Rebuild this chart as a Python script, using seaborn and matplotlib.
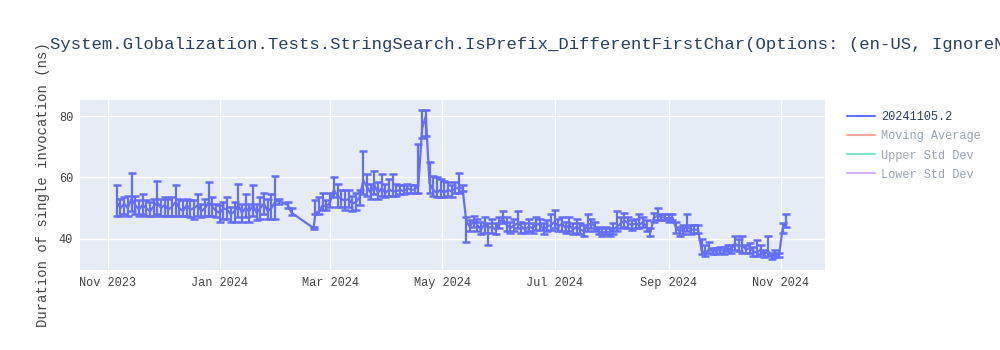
import numpy as np
import pandas as pd
import matplotlib
matplotlib.use("Agg")
import matplotlib.pyplot as plt
import matplotlib.dates as mdates
from matplotlib.lines import Line2D
import seaborn as sns

# ---------------- data ----------------
title = "System.Globalization.Tests.StringSearch.IsPrefix_DifferentFirstChar(Options: (en-US, IgnoreNonSpace, False))"
ylabel = "Duration of single invocation (ns)"
series_name = "20241105.2"
legend_labels = ["20241105.2", "Moving Average", "Upper Std Dev", "Lower Std Dev"]

# segment 1: every 2 days from 2023-11-06
seg1_start = "2023-11-06"
seg1_mean = [52, 50, 51.5, 50, 53, 51, 49.5, 51, 50, 49, 50.5, 52, 50, 51, 49.5, 50.5,
             52, 50, 49, 51, 49.5, 50, 51, 49, 50, 52, 50.5, 49, 48.5, 50, 49.5, 48,
             49, 51, 48.5, 50, 49, 51, 48.5, 50, 51.5, 49, 50, 52, 52.5]
seg1_lo = [4.5, 2.5, 3.5, 2.5, 4, 3, 2, 3, 2.5, 1.5, 3, 4, 2.5, 3.5, 2, 3,
           4.5, 2.5, 1.5, 3.5, 2.5, 3.5, 3.5, 2, 2.5, 4.5, 3, 2, 3, 3.5, 3, 2.5,
           3.5, 4, 3, 3, 3.5, 3.5, 2.5, 3.5, 3.5, 2.5, 3.5, 5.5, 1]
seg1_hi = [5.5, 3, 2, 4, 8.5, 3, 3, 3.5, 2.5, 3, 2.5, 7, 3, 2.5, 3.5, 3,
           5.5, 3, 3.5, 2, 3, 2.5, 3.5, 2.5, 3, 6.5, 3, 2.5, 2.5, 2, 4, 2.5,
           3, 7, 3, 4.5, 2.5, 6.5, 3, 3.5, 3.5, 4, 4.5, 8.5, 0.5]

# sparse February points
feb_dates = ["2024-02-07", "2024-02-09", "2024-02-21", "2024-02-22"]
feb_mean = [51, 48.5, 43.5, 48.5]
feb_lo = [1, 0.8, 0.3, 0.5]
feb_hi = [1, 1.5, 0.3, 4]

# segment 2: every 2 days from 2024-02-24
seg2_start = "2024-02-24"
seg2_mean = [49, 51, 50.5, 52, 56, 54, 53, 52.5, 53, 51.5, 52, 53.5, 59, 57, 55, 57.5,
             55, 56.5, 55, 56, 55.5, 55.5, 56, 55.5, 56.5, 56, 56, 58, 76, 80, 58, 56,
             55, 56, 55, 56, 55.5, 56.5, 56.5, 56.5, 45.5, 44, 46, 44.5, 43, 45, 43.5, 44,
             43, 45.5, 46.5, 44.5, 43.5, 44.5, 45, 44, 43, 44, 43.5, 44.5, 45, 43, 44, 44.5,
             45.5, 44, 45, 43.5, 44.5, 43, 44, 43, 42.5, 44.5, 45, 44, 42.5, 42, 42.5, 42,
             43, 44, 45, 46, 45, 44.5, 45, 44.5, 45.5, 44, 42, 47, 47.5, 47, 47, 46.5,
             47, 43.5, 42.5, 43, 44, 43, 43, 43, 36, 35.5, 36.5, 36, 36, 36.5, 36, 37,
             36.5, 38.5, 37.5, 38, 36.5, 37, 36, 35.5, 36.5, 35, 36, 34.5, 35, 34.5, 43.5, 45.5]
seg2_lo = [1, 1.5, 1, 1.5, 2.5, 3.5, 2.5, 3, 2.5, 2.5, 2.5, 2.5, 4.5, 3, 2, 3,
           2, 2.5, 1.5, 2, 1.5, 1.5, 1.5, 1, 1.5, 1, 1, 3, 3, 6.5, 3, 2,
           1.5, 2.5, 1.5, 2, 2, 1.5, 1.5, 1, 6.5, 1.5, 2, 2, 1.5, 3, 5.5, 2,
           1.5, 2, 1.5, 2, 1.5, 2, 1.5, 2, 1, 1.5, 1.5, 1.5, 2, 1.5, 1.5, 1.5,
           2, 1.5, 2.5, 1.5, 2, 1.5, 2, 1.5, 1.5, 2, 1.5, 1.5, 1, 1, 1, 1,
           1.5, 1.5, 1.5, 2, 1.5, 1.5, 1.5, 1, 1.5, 1.5, 1, 1.5, 1.5, 1, 1, 1,
           1, 1.5, 1.5, 1.5, 1.5, 1.5, 1, 1, 1, 1, 1, 1, 1, 1, 1, 1,
           1, 2, 1.5, 2.5, 1, 1.5, 1.5, 1, 1.5, 1, 1.5, 1, 1, 0.5, 1.5, 1.5]
seg2_hi = [4.5, 4, 2, 3, 4, 4, 3, 3.5, 3, 2.5, 3, 2.5, 9.5, 4, 3, 4.5,
           3.5, 4.5, 3, 3.5, 5.5, 2.5, 1.5, 2, 1.5, 1.5, 1.5, 13, 6, 2, 7, 4.5,
           5, 3.5, 4, 2.5, 2, 2, 5, 1, 1.5, 2, 1.5, 2, 2.5, 2, 1.5, 2.5,
           2, 1.5, 2.5, 2.5, 2, 2, 4, 1.5, 2, 2.5, 1.5, 2.5, 1.5, 2, 2, 3.5,
           4, 2.5, 2, 2, 2.5, 2, 2.5, 2, 2, 3.5, 1.5, 1.5, 1.5, 1.5, 1.5, 1.5,
           2, 5, 2, 2.5, 2, 1.5, 1.5, 3.5, 1.5, 2, 1.5, 1.5, 2.5, 1, 1, 1.5,
           1, 2, 1.5, 1.5, 4, 1.5, 1.5, 1.5, 4, 2.5, 2.5, 1, 1, 1, 1.5, 1,
           1.5, 2.5, 2.5, 3, 1.5, 1.5, 1.5, 4, 1.5, 1.5, 5, 1, 1.5, 1, 1.5, 2.5]

x_ticks = ["2023-11-01", "2024-01-01", "2024-03-01", "2024-05-01", "2024-07-01", "2024-09-01", "2024-11-01"]
x_tick_labels = ["Nov 2023", "Jan 2024", "Mar 2024", "May 2024", "Jul 2024", "Sep 2024", "Nov 2024"]
y_ticks = [40, 60, 80]

# ---------------- build frame ----------------
d1 = pd.date_range(seg1_start, periods=len(seg1_mean), freq="2D")
d2 = pd.date_range(seg2_start, periods=len(seg2_mean), freq="2D")
df = pd.DataFrame({
    "date": list(d1) + list(pd.to_datetime(feb_dates)) + list(d2),
    "value": seg1_mean + feb_mean + seg2_mean,
    "lo": seg1_lo + feb_lo + seg2_lo,
    "hi": seg1_hi + feb_hi + seg2_hi,
})

# ---------------- style ----------------
sns.set_theme(style="darkgrid")
mono = ["Liberation Mono", "DejaVu Sans Mono"]
plt.rcParams["font.family"] = mono
plt.rcParams["axes.facecolor"] = "#E5ECF6"
plt.rcParams["grid.color"] = "white"

fig = plt.figure(figsize=(10, 3.5), dpi=100)
ax = fig.add_axes([0.080, 0.229, 0.745, 0.485])
ax.set_facecolor("#E5ECF6")

blue = "#636EFA"
ax.errorbar(df["date"], df["value"], yerr=[df["lo"], df["hi"]], fmt="none",
            ecolor=blue, elinewidth=1.6, capsize=3.0, capthick=1.8, zorder=3)
sns.lineplot(data=df, x="date", y="value", ax=ax, color=blue, linewidth=1.6,
             zorder=4, legend=False)

ax.set_xlim(pd.Timestamp("2023-10-17"), pd.Timestamp("2024-11-25"))
ax.set_ylim(29.9, 85.2)
ax.set_xticks(pd.to_datetime(x_ticks))
ax.set_xticklabels(x_tick_labels)
ax.set_yticks(y_ticks)
ax.tick_params(axis="both", labelsize=8.6, colors="#444444", length=0, pad=5)
ax.grid(True, color="white", linewidth=1.0)
for s in ax.spines.values():
    s.set_visible(False)
ax.set_xlabel("")
ax.set_ylabel(ylabel, fontsize=10, color="#444444", labelpad=6)

fig.text(0.050, 0.872, title, fontsize=12.4, color="#2a3f5f", ha="left", va="center",
         family=mono)

colors = ["#636EFA", "#EF553B", "#00CC96", "#AB63FA"]
handles = [Line2D([0], [0], color=c, lw=1.5, alpha=(1.0 if i == 0 else 0.5))
           for i, c in enumerate(colors)]
leg = fig.legend(handles, legend_labels, loc="upper left", bbox_to_anchor=(0.842, 0.696),
                 frameon=False, fontsize=8.6, handlelength=2.4, handletextpad=0.5,
                 labelspacing=0.6, borderaxespad=0)
for i, t in enumerate(leg.get_texts()):
    t.set_color("#2a3f5f" if i == 0 else "#9aa4b5")

fig.savefig("out.png", dpi=100)
